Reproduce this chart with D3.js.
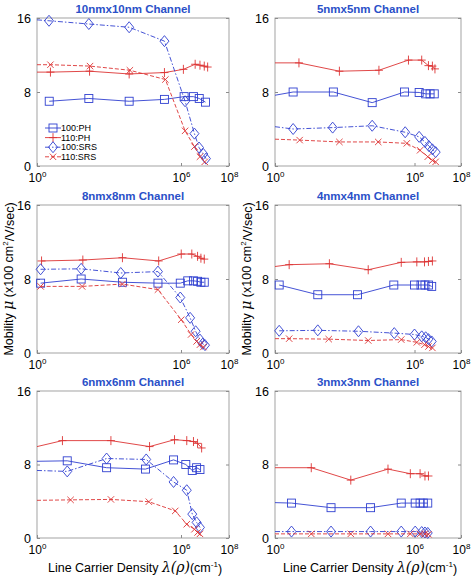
<!DOCTYPE html>
<html lang="en">
<head>
  <meta charset="UTF-8">
  <title>Mobility vs Line Carrier Density</title>
  <script src="https://d3js.org/d3.v7.min.js"></script>
  <style>
    body { margin: 0; background: #fff; }
    svg { font-family: "Liberation Sans", Arial, sans-serif; }
  </style>
</head>
<body>
  <div id="chart"></div>
  <script>
    const width = 471, height = 578;

    // data: [log10(line carrier density), mobility (x100 cm2/V/s)]
    // a point at log10 = 0 is where the curve starts at the axis edge (no marker there)
    const seriesNames = ["100:PH", "110:PH", "100:SRS", "110:SRS"];
    const panelTitles = ["10nmx10nm Channel", "5nmx5nm Channel", "8nmx8nm Channel",
                         "4nmx4nm Channel", "6nmx6nm Channel", "3nmx3nm Channel"];
    const yTicks = [0, 8, 16];
    const xTicks = [0, 6, 8];

    const ch10_ph100 = [[0.51,7.0],[2.16,7.3],[3.84,7.0],[5.31,7.2],[6.13,7.5],[6.52,7.5],[6.76,7.3],[7.02,6.9]];
    const ch10_ph110 = [[0,10.15],[0.56,10.15],[2.19,10.25],[3.84,9.95],[5.31,10.1],[6.10,10.45],[6.59,11.0],[6.79,10.9],[6.97,10.8],[7.11,10.7]];
    const ch10_srs100 = [[0,15.8],[0.50,15.7],[2.16,15.35],[3.84,15.0],[5.31,13.5],[6.17,7.0],[6.56,3.5],[6.75,2.0],[6.93,1.3],[7.04,0.8]];
    const ch10_srs110 = [[0,10.95],[0.56,10.95],[2.21,10.8],[3.87,10.35],[5.35,9.35],[6.17,3.8],[6.56,2.1],[6.79,1.0],[6.99,0.45]];

    const ch5_ph100 = [[0,7.65],[0.78,8.0],[2.51,8.0],[4.18,6.85],[5.57,8.0],[6.2,7.95],[6.48,7.8],[6.67,7.8],[6.85,7.8]];
    const ch5_ph110 = [[0,11.15],[1.03,11.15],[2.77,10.25],[4.47,10.35],[5.74,11.45],[6.31,11.45],[6.6,10.85],[6.77,10.8],[6.88,10.5]];
    const ch5_srs100 = [[0,4.25],[0.78,4.0],[2.48,4.15],[4.18,4.35],[5.6,3.65],[6.2,3.15],[6.45,2.6],[6.62,2.15],[6.77,1.8],[6.91,1.5]];
    const ch5_srs110 = [[0,2.9],[1.06,2.8],[2.77,2.6],[4.44,2.6],[5.67,2.45],[6.24,1.7],[6.57,1.0],[6.77,0.6],[6.91,0.45]];

    const ch8_ph100 = [[0.15,7.55],[1.84,8.0],[3.56,7.65],[5.04,7.55],[5.97,7.55],[6.28,7.8],[6.52,7.8],[6.69,7.75],[6.83,7.65],[6.97,7.65]];
    const ch8_ph110 = [[0.19,9.95],[1.91,10.05],[3.56,10.3],[5.07,9.95],[6.01,10.7],[6.45,10.7],[6.69,10.45],[6.83,10.25],[6.97,10.15]];
    const ch8_srs100 = [[0.15,9.05],[1.84,9.1],[3.49,8.65],[5.04,8.8],[5.97,6.0],[6.38,3.8],[6.61,2.35],[6.79,1.45],[6.9,1.0],[7.0,0.85]];
    const ch8_srs110 = [[0.15,7.2],[1.88,7.2],[3.56,7.45],[5.04,6.85],[6.01,3.6],[6.42,2.0],[6.65,1.25],[6.79,0.9],[6.93,0.65]];

    const ch4_ph100 = [[0.18,7.35],[1.84,6.3],[3.55,6.3],[5.11,7.35],[6.0,7.35],[6.28,7.35],[6.45,7.35],[6.6,7.35],[6.74,7.2]];
    const ch4_ph110 = [[0,9.35],[0.61,9.55],[2.34,9.65],[4.01,9.0],[5.43,9.8],[6.1,9.85],[6.43,9.85],[6.6,9.9],[6.77,9.95]];
    const ch4_srs100 = [[0.18,2.4],[1.84,2.45],[3.59,2.35],[5.13,2.15],[6.0,2.0],[6.31,1.8],[6.48,1.7],[6.6,1.5],[6.74,1.25]];
    const ch4_srs110 = [[0,1.55],[0.61,1.55],[2.31,1.5],[4.01,1.35],[5.43,1.45],[6.1,1.15],[6.43,0.9],[6.6,0.7],[6.77,0.55]];

    const ch6_ph100 = [[0,8.35],[1.26,8.4],[2.9,7.65],[4.52,7.5],[5.69,8.5],[6.2,8.0],[6.47,7.35],[6.65,7.65],[6.79,7.45]];
    const ch6_ph110 = [[0,9.95],[1.06,10.6],[3.08,10.6],[4.69,9.95],[5.73,10.7],[6.24,10.6],[6.52,10.5],[6.69,10.3],[6.86,9.8]];
    const ch6_srs100 = [[0,7.35],[1.26,7.25],[2.9,8.65],[4.55,8.55],[5.69,6.1],[6.24,5.2],[6.47,2.6],[6.65,1.7],[6.79,1.15]];
    const ch6_srs110 = [[0,4.1],[1.4,4.15],[3.08,4.2],[4.66,3.95],[5.76,2.95],[6.24,1.5],[6.56,0.95],[6.69,0.6],[6.79,0.45]];

    const ch3_ph100 = [[0,3.85],[0.71,3.8],[2.41,3.3],[4.11,3.3],[5.43,3.8],[6.03,3.8],[6.24,3.8],[6.38,3.8],[6.57,3.8]];
    const ch3_ph110 = [[0,7.65],[1.56,7.65],[3.26,6.3],[4.86,7.5],[5.82,7.0],[6.24,7.0],[6.45,6.75],[6.6,6.75]];
    const ch3_srs100 = [[0,0.7],[0.71,0.7],[2.41,0.7],[4.11,0.7],[5.43,0.7],[6.03,0.7],[6.31,0.65],[6.45,0.6],[6.57,0.55]];
    const ch3_srs110 = [[0,0.45],[1.56,0.45],[3.26,0.45],[4.86,0.45],[5.82,0.45],[6.24,0.45],[6.45,0.45],[6.6,0.4]];

    const panelData = [
      [ch10_ph100, ch10_ph110, ch10_srs100, ch10_srs110],
      [ch5_ph100, ch5_ph110, ch5_srs100, ch5_srs110],
      [ch8_ph100, ch8_ph110, ch8_srs100, ch8_srs110],
      [ch4_ph100, ch4_ph110, ch4_srs100, ch4_srs110],
      [ch6_ph100, ch6_ph110, ch6_srs100, ch6_srs110],
      [ch3_ph100, ch3_ph110, ch3_srs100, ch3_srs110]
    ];

    // styles per series
    const blue = "#3040d0", red = "#dd3333";
    const styles = [
      { color: blue, dash: null, marker: "square" },
      { color: red, dash: null, marker: "plus" },
      { color: blue, dash: "5,2,1.5,2", marker: "diamond" },
      { color: red, dash: "4,2", marker: "cross" }
    ];

    // layout
    const cols = [[37, 229], [275, 461]];
    const rows = [[18, 166], [205, 353], [391, 538]];

    const svg = d3.select("#chart").append("svg")
      .attr("width", width).attr("height", height);

    function drawMarker(g, type, x, y, color) {
      if (type === "square") {
        g.append("rect").attr("x", x - 4).attr("y", y - 4).attr("width", 8).attr("height", 8)
          .attr("fill", "none").attr("stroke", color).attr("stroke-width", 0.9);
      } else if (type === "diamond") {
        g.append("path").attr("d", `M${x},${y-5.5}L${x+4.5},${y}L${x},${y+5.5}L${x-4.5},${y}Z`)
          .attr("fill", "none").attr("stroke", color).attr("stroke-width", 0.9);
      } else if (type === "plus") {
        g.append("path").attr("d", `M${x-4},${y}H${x+4}M${x},${y-4.5}V${y+4.5}`)
          .attr("stroke", color).attr("stroke-width", 0.9);
      } else {
        g.append("path").attr("d", `M${x-3.2},${y-3.2}L${x+3.2},${y+3.2}M${x-3.2},${y+3.2}L${x+3.2},${y-3.2}`)
          .attr("stroke", color).attr("stroke-width", 0.9);
      }
    }

    panelData.forEach((series, i) => {
      const [x0, x1] = cols[i % 2];
      const [y0, y1] = rows[Math.floor(i / 2)];
      const x = d3.scaleLog().domain([1, 1e8]).range([x0, x1]);
      const y = d3.scaleLinear().domain([0, 16]).range([y1, y0]);
      const g = svg.append("g");

      // frame
      g.append("rect").attr("x", x0).attr("y", y0).attr("width", x1 - x0).attr("height", y1 - y0)
        .attr("fill", "none").attr("stroke", "#8c8c8c").attr("stroke-width", 0.8);

      // y axis
      const yAxis = g.append("g").attr("transform", `translate(${x0},0)`)
        .call(d3.axisLeft(y).tickValues(yTicks).tickSize(-3).tickPadding(6));
      yAxis.select(".domain").remove();
      yAxis.selectAll("line").attr("stroke", "#8c8c8c");
      yAxis.selectAll("text").attr("font-size", 12.5).attr("fill", "#000")
        .attr("font-family", "Liberation Sans, Arial, sans-serif");
      g.append("g").attr("transform", `translate(${x1},0)`)
        .call(d3.axisRight(y).tickValues(yTicks).tickSize(-3).tickFormat(""))
        .call(a => a.select(".domain").remove())
        .selectAll("line").attr("stroke", "#8c8c8c");

      // x axis with 10^n labels
      const xAxis = g.append("g").attr("transform", `translate(0,${y1})`)
        .call(d3.axisBottom(x).tickValues(xTicks.map(d => Math.pow(10, d))).tickSize(-3).tickPadding(7).tickFormat(""));
      xAxis.select(".domain").remove();
      xAxis.selectAll("line").attr("stroke", "#8c8c8c");
      xAxis.selectAll(".tick text").each(function(d) {
        const t = d3.select(this).attr("font-size", 12).attr("fill", "#000")
          .attr("font-family", "Liberation Sans, Arial, sans-serif");
        t.append("tspan").text("10");
        t.append("tspan").attr("font-size", 8).attr("dy", "-0.55em").text(Math.round(Math.log10(d)));
      });

      // title
      g.append("text").attr("x", (x0 + x1) / 2).attr("y", y0 - 5)
        .attr("text-anchor", "middle").attr("font-size", 11.5).attr("font-weight", "bold")
        .attr("fill", "#2a50c8").text(panelTitles[i]);

      // curves
      const line = d3.line().x(d => x(Math.pow(10, d[0]))).y(d => y(d[1]));
      series.forEach((pts, s) => {
        const st = styles[s];
        g.append("path").datum(pts).attr("d", line)
          .attr("fill", "none").attr("stroke", st.color).attr("stroke-width", 0.9)
          .attr("stroke-dasharray", st.dash);
        pts.forEach(p => {
          if (p[0] === 0) return;
          drawMarker(g, st.marker, x(Math.pow(10, p[0])), y(p[1]), st.color);
        });
      });

      // y label on middle row
      if (Math.floor(i / 2) === 1) {
        const lab = g.append("text")
          .attr("transform", `translate(${x0 - 24},${(y0 + y1) / 2}) rotate(-90)`)
          .attr("text-anchor", "middle").attr("font-size", 12.5).attr("fill", "#000");
        lab.append("tspan").text("Mobility ");
        lab.append("tspan").attr("font-family", "DejaVu Serif, serif").attr("font-style", "italic").attr("font-size", 14).text("μ");
        lab.append("tspan").text(" (x100 cm");
        lab.append("tspan").attr("font-size", 8).attr("dy", "-0.6em").text("2");
        lab.append("tspan").attr("dy", "0.45em").text("/V/sec)");
      }

      // x label on bottom row
      if (Math.floor(i / 2) === 2) {
        const lab = g.append("text").attr("x", (x0 + x1) / 2 + 2).attr("y", y1 + 34)
          .attr("text-anchor", "middle").attr("font-size", 12.5).attr("fill", "#000");
        lab.append("tspan").text("Line Carrier Density ");
        lab.append("tspan").attr("font-family", "DejaVu Serif, serif").attr("font-style", "italic").attr("font-size", 14).text("λ(ρ)");
        lab.append("tspan").text("(cm");
        lab.append("tspan").attr("font-size", 8).attr("dy", "-0.6em").text("-1");
        lab.append("tspan").attr("dy", "0.45em").text(")");
      }

      // legend in the first panel
      if (i === 0) {
        const lg = g.append("g").attr("transform", `translate(${x0 + 8},${y0 + 110})`);
        seriesNames.forEach((name, s) => {
          const st = styles[s];
          const ly = s * 9.6;
          lg.append("line").attr("x1", 0).attr("x2", 16).attr("y1", ly).attr("y2", ly)
            .attr("stroke", st.color).attr("stroke-width", 0.9).attr("stroke-dasharray", st.dash);
          drawMarker(lg, st.marker, 8, ly, st.color);
          lg.append("text").attr("x", 16).attr("y", ly + 3.2).attr("font-size", 9)
            .attr("fill", "#000").text(name);
        });
      }
    });
  </script>
</body>
</html>
